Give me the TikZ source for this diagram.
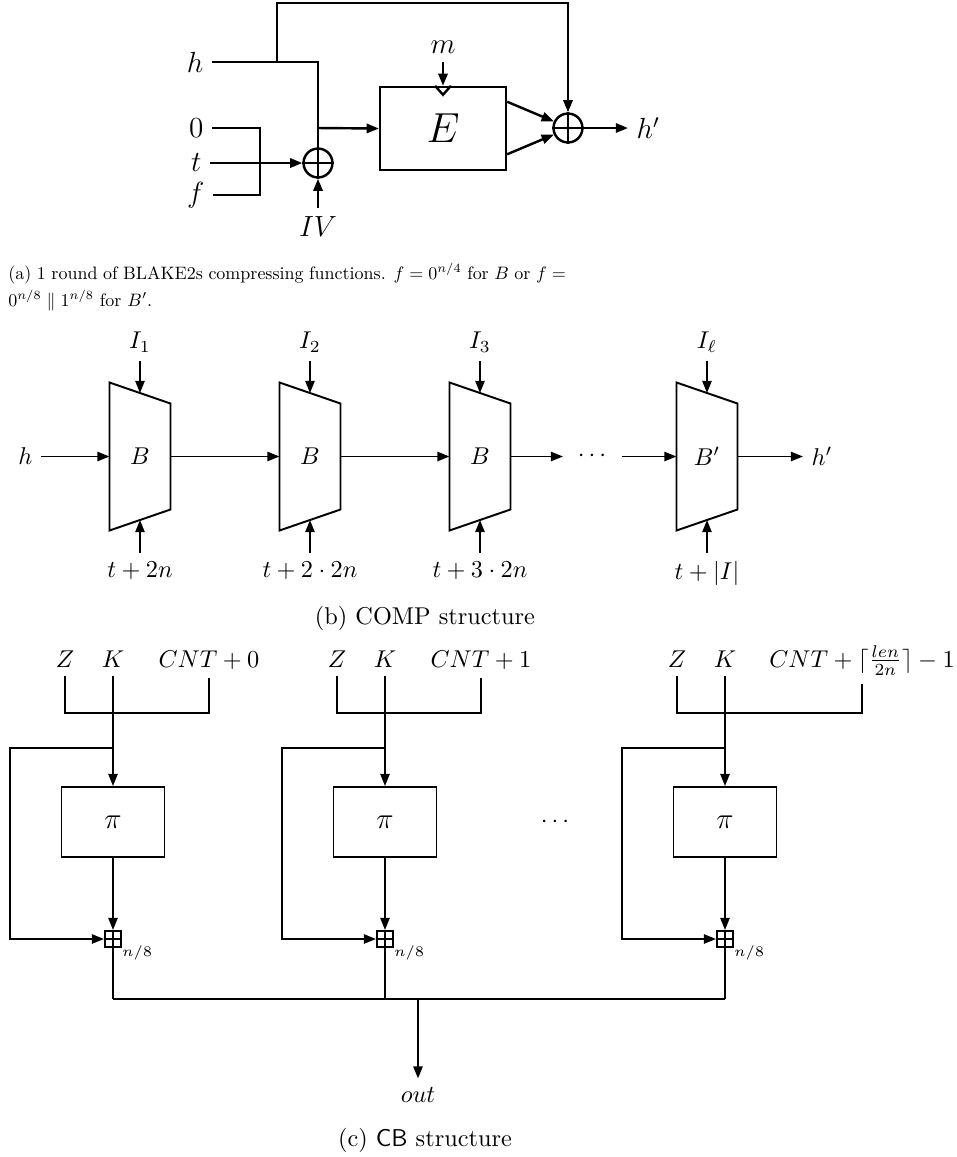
\documentclass[tikz,border=0pt]{standalone}
\usetikzlibrary{arrows.meta,calc}
\begin{document}
\begin{tikzpicture}[x=0.4115pt,y=-0.4115pt,
  ln/.style={line width=1pt},
  ar/.style={line width=1pt,-{Triangle[length=5pt,width=3.8pt]}},
  lnc/.style={thick},
  arc/.style={thick,-{Triangle[length=5pt,width=3.8pt]}},
  xorop/.style={circle,draw,line width=1pt,inner sep=0pt,minimum size=11.9pt},
  addop/.style={rectangle,draw,thick,inner sep=0pt,minimum size=6.6pt},
  ebox/.style={rectangle,draw,line width=1pt,inner sep=0pt,minimum width=51.8pt,minimum height=34.2pt},
  pibox/.style={rectangle,draw,thick,inner sep=0pt,minimum width=42.4pt,minimum height=28.8pt},
  trap/.style={inner sep=0pt,minimum width=24.7pt,minimum height=60.5pt},
  capa/.style={anchor=base west,inner sep=0pt,scale=0.74,transform shape}
]
\useasboundingbox (0,0) rectangle (957,1157);

% ---------------- (a) ----------------
\node[font=\large,anchor=east] (h) at (212,62) {$h$};
\node[font=\large,anchor=east] (zero) at (212,128) {$0$};
\node[font=\large,anchor=east] (t) at (210,163) {$t$};
\node[font=\large,anchor=east] (f) at (213,195) {$f$};
\node[xorop] (x1) at (318,163) {};
\draw[ln] (x1.north) -- (x1.south) (x1.west) -- (x1.east);
\node[font=\large,anchor=north] (IV) at (318,208) {$IV$};
\node[ebox,font=\LARGE] (E) at (443,128.5) {$E$};
\node[font=\large,anchor=south] (m) at (443,62) {$m$};
\node[xorop] (x2) at (568,128) {};
\draw[ln] (x2.north) -- (x2.south) (x2.west) -- (x2.east);
\node[font=\large,anchor=west] (hp) at (628,128) {$h'$};
\coordinate (j0) at (277,62);
\coordinate (j1) at (318,62);
\coordinate (j2) at (318,128);
\coordinate (top0) at (277,3);
\coordinate (top1) at (568,3);
\coordinate (b0) at (260,128);
\coordinate (b1) at (260,195);

\draw[ln] (h.east) -- (j1) -- (x1.north);
\draw[ar] (j0) -- (top0) -- (top1) -- (x2.north);
\draw[ln] (zero.east) -- (b0) -- (b1) -- (f.east);
\draw[ar] (t.east) -- (x1.west);
\draw[ar] (IV.north) -- (x1.south);
\draw[ar] (j2) -- (E.west);
\draw[ar] (m.south) -- (E.north);
\draw[ln] ($(E.north)+(-8,0)$) -- ($(E.north)+(0,9)$) -- ($(E.north)+(8,0)$);
\draw[ar] ($(E.north east)+(0,16)$) -- (x2.155);
\draw[ar] ($(E.south east)+(0,-17)$) -- (x2.205);
\draw[ar] (x2.east) -- (hp.west);

\node[capa] (capa1) at (8,279) {\hbox to 310pt{(a) 1 round of BLAKE2s compressing functions. $f = 0^{n/4}$ for $B$ or $f =$}};
\node[capa] (capa2) at (8,306) {$0^{n/8}\parallel 1^{n/8}$ for $B'$.};

% ---------------- (b) ----------------
\foreach \n/\cx/\bv/\iv/\tv in {1/140/{$B$}/{$I_1$}/{$t+2n$},
                               2/310/{$B$}/{$I_2$}/{$t+2\cdot 2n$},
                               3/480/{$B$}/{$I_3$}/{$t+3\cdot 2n$},
                               4/707/{$B'$}/{$I_\ell$}/{$t+|I|$}}{
  \node[trap] (B\n) at (\cx,456.5) {\bv};
  \draw[lnc] (B\n.north west) -- ($(B\n.north east)+(0,21)$) -- ($(B\n.south east)+(0,-21)$) -- (B\n.south west) -- cycle;
  \node[anchor=south] (I\n) at (\cx,361) {\iv};
  \node[anchor=north] (T\n) at (\cx,553) {\tv};
  \draw[arc] (I\n.south) -- ($(B\n.north)+(0,10.5)$);
  \draw[arc] (T\n.north) -- ($(B\n.south)+(0,-10.5)$);
}
\node[anchor=east] (hb) at (41,456.5) {$h$};
\node[anchor=west] (hpb) at (803,456.5) {$h'$};
\node (dots) at (592,456.5) {$\cdots$};
\coordinate (d1) at (563,456.5);
\coordinate (d2) at (622,456.5);
\draw[arc] (hb.east) -- (B1.west);
\draw[arc] (B1.east) -- (B2.west);
\draw[arc] (B2.east) -- (B3.west);
\draw[arc] (B3.east) -- (d1);
\draw[arc] (d2) -- (B4.west);
\draw[arc] (B4.east) -- (hpb.west);
\node[anchor=base] (capb) at (425,624) {(b) COMP structure};

% ---------------- (c) ----------------
\foreach \g/\k/\c/\ct in {1/113/209/{$CNT+0$},
                          2/385/481/{$CNT+1$},
                          3/725/862/{$CNT+\lceil\frac{len}{2n}\rceil-1$}}{
  \node[anchor=base] (Z\g) at (\k-48,667) {$Z$};
  \node[anchor=base] (K\g) at (\k,667) {$K$};
  \node[anchor=base] (C\g) at (\c,667) {\ct};
  \node[pibox,font=\large] (P\g) at (\k,822) {$\pi$};
  \node[addop] (A\g) at (\k,939) {};
  \draw[lnc] (A\g.north) -- (A\g.south) (A\g.west) -- (A\g.east);
  \node[anchor=base west,inner sep=0pt,font=\fontsize{6}{7}\selectfont] (N\g) at (\k+9,956) {$n/8$};
  \draw[lnc] (Z\g.south) -- (\k-48,713) -- (\c,713) -- (C\g.south);
  \draw[arc] (K\g.south) -- (P\g.north);
  \draw[arc] (P\g.south) -- (A\g.north);
  \draw[arc] (\k,748) -- (\k-103,748) -- (\k-103,939) -- (A\g.west);
  \draw[lnc] (A\g.south) -- (\k,999);
}
\node (cdots) at (555,822) {$\cdots$};
\coordinate (bl) at (113,999);
\coordinate (br) at (725,999);
\coordinate (ob) at (418,999);
\draw[lnc] (bl) -- (br);
\node[anchor=base] (out) at (418,1102) {$out$};
\draw[arc] (ob) -- (out.north);
\node[anchor=base] (capc) at (425,1146) {(c) \textsf{CB} structure};
\end{tikzpicture}
\end{document}
